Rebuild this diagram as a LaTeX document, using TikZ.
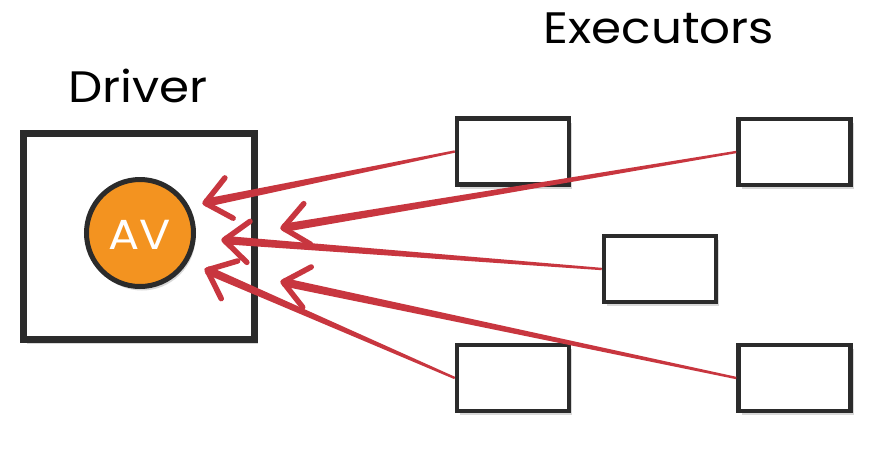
\documentclass[tikz,border=0pt]{standalone}
\usepackage{fontspec}
\setmainfont{Poppins}
\newfontfamily\handfont[FakeStretch=1.1]{Poppins}
\usetikzlibrary{calc,shadows}
\definecolor{ink}{HTML}{2B2B2B}
\definecolor{avorange}{HTML}{F39320}
\definecolor{arrowred}{HTML}{C8363F}
\tikzset{
  drvbox/.style={draw=ink, line width=7pt, fill=white, minimum width=231pt, minimum height=206pt,
    drop shadow={opacity=0.3, shadow xshift=3pt, shadow yshift=-4pt}},
  execbox/.style={draw=ink, line width=4.5pt, fill=white, minimum width=112pt, minimum height=66pt,
    drop shadow={opacity=0.3, shadow xshift=3pt, shadow yshift=-4pt}},
  avcircle/.style={circle, draw=ink, line width=5pt, fill=avorange, minimum size=107pt, inner sep=0pt,
    drop shadow={opacity=0.3, shadow xshift=2pt, shadow yshift=-4pt}},
  title/.style={font=\handfont\fontsize{44}{50}\selectfont, text=black},
  headarm/.style={arrowred, line width=5.5pt, line cap=round, line join=round},
}
\newcommand\redarrow[2]{%
  \fill[arrowred] ($(#1)!4.2pt!90:(#2)$) -- ($(#2)!1.2pt!-90:(#1)$) -- ($(#2)!1.2pt!90:(#1)$) -- ($(#1)!4.2pt!-90:(#2)$) -- cycle;
  \draw[headarm] ($(#1)!32pt!40:(#2)$) -- (#1) -- ($(#1)!32pt!-40:(#2)$);
}
\begin{document}
\begin{tikzpicture}[x=1pt,y=-1pt]
\useasboundingbox (0,0) rectangle (889,451);
\fill[white] (0,0) rectangle (889,451);
\node[title] (drvlabel) at (138,86) {Driver};
\node[title] (execlabel) at (659,28) {Executors};
\node[drvbox] (driver) at (139,236.5) {};
\node[avcircle] (av) at (140,233) {};
\node[text=white, font=\handfont\fontsize{42}{48}\selectfont] (avlabel) at (140,235) {AV};
\node[execbox] (e1) at (513,151.5) {};
\node[execbox] (e2) at (794.5,152) {};
\node[execbox] (e3) at (660,269) {};
\node[execbox] (e4) at (513,378) {};
\node[execbox] (e5) at (794.5,378) {};
\coordinate (t1) at (205,203);
\coordinate (t2) at (283,228);
\coordinate (t3) at (224,240);
\coordinate (t4) at (207,270);
\coordinate (t5) at (283,282);
\redarrow{t1}{e1.west}
\redarrow{t2}{e2.west}
\redarrow{t3}{e3.west}
\redarrow{t4}{e4.west}
\redarrow{t5}{e5.west}
\end{tikzpicture}
\end{document}
